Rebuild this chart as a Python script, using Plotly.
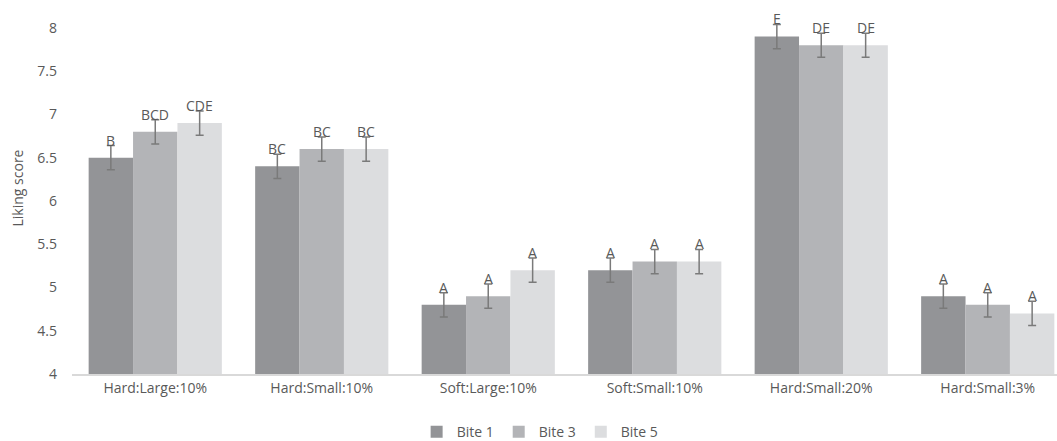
import plotly.graph_objects as go

categories = ["Hard:Large:10%", "Hard:Small:10%", "Soft:Large:10%", "Soft:Small:10%", "Hard:Small:20%", "Hard:Small:3%"]
series_names = ["Bite 1", "Bite 3", "Bite 5"]
bite1 = [6.5, 6.4, 4.8, 5.2, 7.9, 4.9]
bite3 = [6.8, 6.6, 4.9, 5.3, 7.8, 4.8]
bite5 = [6.9, 6.6, 5.2, 5.3, 7.8, 4.7]
err1 = [0.14, 0.14, 0.14, 0.14, 0.14, 0.14]
err3 = [0.14, 0.14, 0.14, 0.14, 0.14, 0.14]
err5 = [0.14, 0.14, 0.14, 0.14, 0.14, 0.14]
letters1 = ["B", "BC", "A", "A", "E", "A"]
letters3 = ["BCD", "BC", "A", "A", "DE", "A"]
letters5 = ["CDE", "BC", "A", "A", "DE", "A"]
colors = ["#939497", "#b3b4b7", "#dcdddf"]

W, H = 1057, 441
ml, mr, mt, mb = 72, 0, 2, 67
xr = [-0.5, 5.416]
bargap = 0.2
FS = 14

fig = go.Figure()
values = [bite1, bite3, bite5]
errs = [err1, err3, err5]
letters = [letters1, letters3, letters5]
for name, v, e, c in zip(series_names, values, errs, colors):
    fig.add_trace(go.Bar(
        name=name, x=categories, y=v, marker=dict(color=c, line=dict(width=0)),
        error_y=dict(type="data", array=e, visible=True, color="#7a7a7a", thickness=1.5, width=4),
    ))

plot_w = W - ml - mr
cat_px = plot_w / (xr[1] - xr[0])
bar_px = cat_px * (1 - bargap) / 3
annotations = []
for i, (v, e, lab) in enumerate(zip(values, errs, letters)):
    for j, cat in enumerate(categories):
        annotations.append(dict(
            x=cat, y=v[j] + e[j], text=lab[j], showarrow=False,
            xshift=(i - 1) * bar_px, yanchor="bottom", yshift=-6,
            font=dict(family="Open Sans", size=FS, color="#595959"),
        ))

fig.update_layout(
    width=W, height=H, barmode="group", bargap=bargap, bargroupgap=0,
    margin=dict(l=ml, r=mr, t=mt, b=mb, autoexpand=False),
    plot_bgcolor="white", paper_bgcolor="white",
    font=dict(family="Open Sans", size=FS, color="#595959"),
    xaxis=dict(range=xr, showline=True, linecolor="#d9d9d9", linewidth=1.5, showgrid=False,
               ticks="", tickfont=dict(size=FS, color="#595959")),
    yaxis=dict(range=[4, 8.3], tickvals=[4, 4.5, 5, 5.5, 6, 6.5, 7, 7.5, 8],
               ticktext=["4", "4.5", "5", "5.5", "6", "6.5", "7", "7.5", "8"],
               showgrid=False, showline=False, zeroline=False, ticks="",
               ticklabelstandoff=14, tickfont=dict(size=FS, color="#595959"),
               title=dict(text="Liking score", font=dict(size=FS, color="#595959"), standoff=10)),
    legend=dict(orientation="h", xref="container", x=0.511, xanchor="center",
                yref="container", y=0.02, yanchor="middle",
                font=dict(size=FS, color="#595959"), traceorder="normal", itemwidth=30),
    annotations=annotations,
)
fig.write_html("out.html")
